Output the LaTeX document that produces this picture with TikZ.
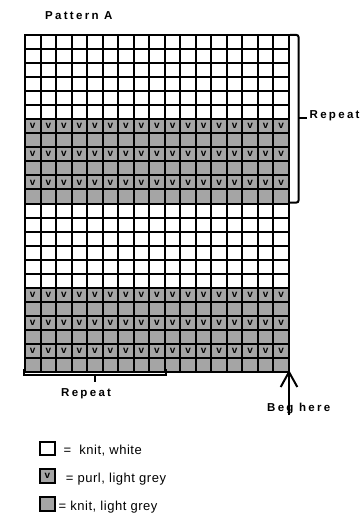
\documentclass[tikz,border=0pt]{standalone}
\usepackage{fontspec}
\setmainfont{Liberation Sans}
\newfontfamily\lblfont[LetterSpace=20]{Liberation Sans}
\newfontfamily\legfont[LetterSpace=4]{Liberation Sans}
\definecolor{knitgrey}{RGB}{165,165,165}
\begin{document}
\begin{tikzpicture}[x=1pt,y=-1pt,
  gridline/.style={line width=2pt,line cap=rect},
  bracket/.style={line width=2pt},
  lbl/.style={font=\lblfont\bfseries\fontsize{11.5}{13}\selectfont,inner sep=0pt,anchor=base west},
  legtext/.style={font=\legfont\fontsize{13}{15}\selectfont,inner sep=0pt,anchor=base west},
  vmark/.style={font=\bfseries\fontsize{10}{11}\selectfont,inner sep=0pt},
  legbox/.style={draw,line width=2pt,minimum width=15pt,minimum height=13.5pt,inner sep=0pt}]
\useasboundingbox (0,0) rectangle (361,513);
\def\cw{15.5294}
\def\rh{14.0417}
\coordinate (gridNW) at (25,35);
\coordinate (gridSE) at (289,372);
% grey bands
\fill[knitgrey] (25,{35+6*\rh}) rectangle (289,{35+12*\rh});
\fill[knitgrey] (25,{35+18*\rh}) rectangle (289,372);
% purl marks
\foreach \r in {6,8,10,18,20,22}{
  \foreach \c in {0,...,16}{
    \node[vmark] (v-\r-\c) at ({25+\c*\cw+\cw/2},{35+\r*\rh+\rh/2}) {v};
  }
}
% grid lines
\foreach \c in {0,...,17}{
  \draw[gridline] ({25+\c*\cw},35) -- ({25+\c*\cw},372);
}
\foreach \r in {0,...,24}{
  \draw[gridline] (25,{35+\r*\rh}) -- (289,{35+\r*\rh});
}
% title
\node[lbl] (title) at (45,20) {Pattern A};
% right repeat bracket
\coordinate (rbTop) at (290,35);
\coordinate (rbBot) at (290,202.5);
\coordinate (rbMid) at (298.5,118);
\draw[bracket,rounded corners=2pt] (rbTop) -- (298.5,35) -- (298.5,202.5) -- (rbBot);
\draw[bracket] (rbMid) -- (307,118);
\node[lbl] (repR) at (309.5,118.5) {Repeat};
% bottom repeat bracket
\coordinate (bbL) at (23.5,369);
\coordinate (bbR) at (165.5,369);
\coordinate (bbTick) at (95,382);
\draw[bracket] (bbL) -- (23.5,375.3) -- (165.5,375.3) -- (bbR);
\draw[bracket] (95,375.3) -- (bbTick);
\node[lbl] (repB) at (61,396.5) {Repeat};
% begin arrow
\node[lbl] (beg) at (267,411) {Beg here};
\coordinate (arrTail) at (289,415);
\draw[line width=2pt] (arrTail) -- (gridSE);
\draw[line width=2pt,line join=miter] (280.7,387) -- (gridSE) -- (297.3,387);
% legend
\node[legbox,fill=white] (box1) at (47.3,448.5) {};
\node[legbox,fill=knitgrey] (box2) at (47.3,476) {};
\node[vmark] (box2v) at (box2.center) {v};
\node[legbox,fill=knitgrey] (box3) at (47.3,504) {};
\node[legtext] (leg1) at (63.3,454.5) {=\ \ knit, white};
\node[legtext] (leg2) at (65.7,482) {= purl, light grey};
\node[legtext] (leg3) at (58.5,510) {= knit, light grey};
\end{tikzpicture}
\end{document}
